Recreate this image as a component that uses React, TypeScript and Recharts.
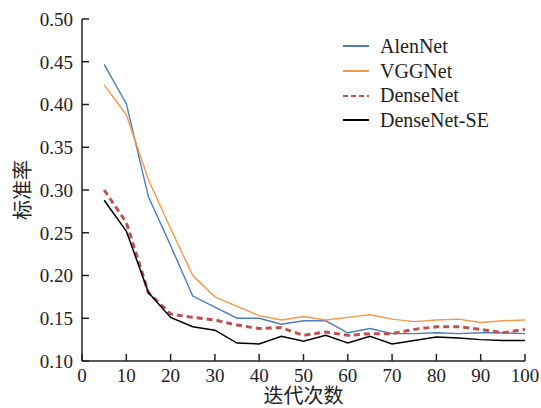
import { Label, Legend, Line, LineChart, XAxis, YAxis } from "recharts"

const iterations = [5, 10, 15, 20, 25, 30, 35, 40, 45, 50, 55, 60, 65, 70, 75, 80, 85, 90, 95, 100]
const alenNet = [0.447, 0.401, 0.292, 0.235, 0.176, 0.163, 0.150, 0.150, 0.143, 0.147, 0.147, 0.133, 0.138, 0.132, 0.132, 0.133, 0.132, 0.133, 0.133, 0.132]
const vggNet = [0.423, 0.388, 0.312, 0.255, 0.200, 0.175, 0.164, 0.153, 0.148, 0.152, 0.148, 0.151, 0.154, 0.149, 0.146, 0.148, 0.149, 0.145, 0.147, 0.148]
const denseNet = [0.300, 0.262, 0.180, 0.155, 0.151, 0.148, 0.142, 0.138, 0.139, 0.130, 0.134, 0.130, 0.132, 0.132, 0.137, 0.140, 0.140, 0.137, 0.133, 0.137]
const denseNetSE = [0.288, 0.252, 0.180, 0.151, 0.140, 0.136, 0.121, 0.120, 0.129, 0.123, 0.130, 0.121, 0.129, 0.120, 0.124, 0.128, 0.127, 0.125, 0.124, 0.124]

const xTicks = [0, 10, 20, 30, 40, 50, 60, 70, 80, 90, 100]
const yTicks = [0.1, 0.15, 0.2, 0.25, 0.3, 0.35, 0.4, 0.45, 0.5]

const data = iterations.map((it, i) => ({
  it,
  alenNet: alenNet[i],
  vggNet: vggNet[i],
  denseNet: denseNet[i],
  denseNetSE: denseNetSE[i],
}))

const series = [
  { key: "alenNet", name: "AlenNet", color: "#4a7ebb", width: 1.4, dash: undefined },
  { key: "vggNet", name: "VGGNet", color: "#f79646", width: 1.4, dash: undefined },
  { key: "denseNet", name: "DenseNet", color: "#c0504d", width: 3, dash: "6 4" },
  { key: "denseNetSE", name: "DenseNet-SE", color: "#000000", width: 1.5, dash: undefined },
]

const serif = "Liberation Serif, DejaVu Serif, serif"
const cjk = "Noto Sans CJK SC, sans-serif"

function XTick(props: any) {
  const { x, y, payload } = props
  return (
    <text x={x} y={y} dy="0.71em" textAnchor="middle" style={{ fill: "#222", fontSize: 19, fontFamily: serif }}>
      {payload.value}
    </text>
  )
}

function YTick(props: any) {
  const { x, y, payload } = props
  return (
    <text x={x} y={y} dy="0.36em" textAnchor="end" style={{ fill: "#222", fontSize: 19, fontFamily: serif }}>
      {Number(payload.value).toFixed(2)}
    </text>
  )
}

function LegendBox() {
  return (
    <div style={{ fontFamily: serif, fontSize: 20, color: "#222" }}>
      {series.map((s) => (
        <div key={s.key} style={{ display: "flex", alignItems: "center", height: 24.7 }}>
          <svg width={32} height={10} style={{ marginRight: 6 }}>
            <line x1={1} x2={27} y1={5} y2={5} stroke={s.color} strokeWidth={2} strokeDasharray={s.dash ? "5 3" : undefined} />
          </svg>
          <span>{s.name}</span>
        </div>
      ))}
    </div>
  )
}

export default function App() {
  return (
    <div style={{ position: "absolute", left: 0, top: 0, background: "#fff", fontFamily: serif }}>
      <LineChart
        width={541}
        height={408}
        data={data}
        margin={{ top: 19, right: 16, bottom: 0, left: 0 }}
        style={{ fontFamily: serif }}
      >
        <XAxis
          dataKey="it"
          type="number"
          domain={[0, 100]}
          ticks={xTicks}
          height={47}
          tickSize={-7}
          tickMargin={15}
          axisLine={{ stroke: "#222", strokeWidth: 1.5 }}
          tickLine={{ stroke: "#222", strokeWidth: 1.5 }}
          tick={(p: any) => <XTick {...p} />}
          interval={0}
        >
          <Label value="迭代次数" position="insideBottom" offset={5} style={{ fill: "#222", fontSize: 20, fontFamily: cjk }} />
        </XAxis>
        <YAxis
          type="number"
          domain={[0.1, 0.5]}
          ticks={yTicks}
          width={82}
          tickSize={-7}
          tickMargin={16}
          interval={0}
          axisLine={{ stroke: "#222", strokeWidth: 1.5 }}
          tickLine={{ stroke: "#222", strokeWidth: 1.5 }}
          tick={(p: any) => <YTick {...p} />}
        >
          <Label
            content={() => (
              <text
                x={21}
                y={190}
                transform="rotate(-90 21 190)"
                textAnchor="middle"
                dominantBaseline="central"
                style={{ fill: "#222", fontSize: 20, fontFamily: cjk }}
              >
                标准率
              </text>
            )}
          />
        </YAxis>
        <Legend
          layout="vertical"
          align="center"
          verticalAlign="middle"
          content={() => <LegendBox />}
          wrapperStyle={{ position: "absolute", left: 342, top: 34, width: 190 }}
        />
        {series.map((s) => (
          <Line
            key={s.key}
            dataKey={s.key}
            name={s.name}
            type="linear"
            stroke={s.color}
            strokeWidth={s.width}
            strokeDasharray={s.dash}
            dot={false}
            activeDot={false}
            isAnimationActive={false}
          />
        ))}
      </LineChart>
    </div>
  )
}
